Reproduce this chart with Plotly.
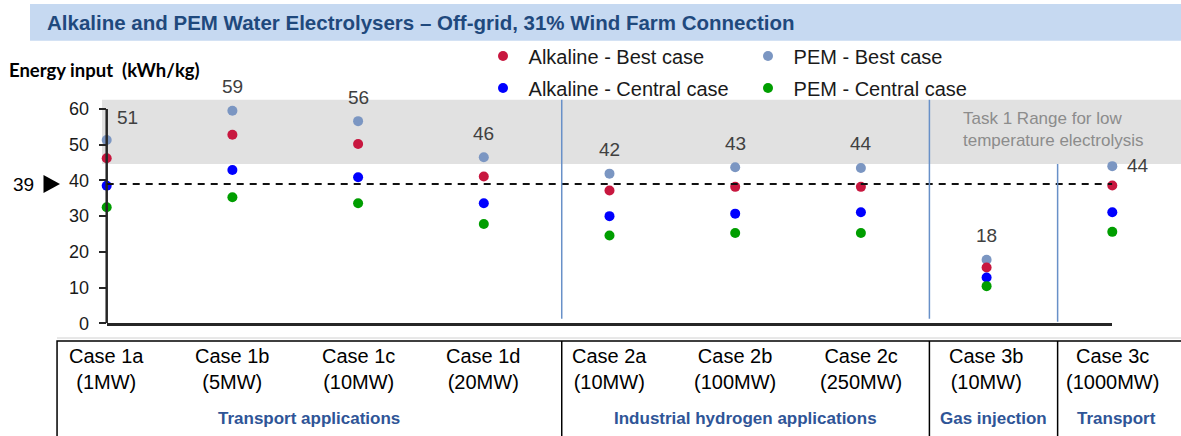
import plotly.graph_objects as go

# ---------------- data ----------------
case_names = ["Case 1a", "Case 1b", "Case 1c", "Case 1d", "Case 2a", "Case 2b", "Case 2c", "Case 3b", "Case 3c"]
case_sizes = ["(1MW)", "(5MW)", "(10MW)", "(20MW)", "(10MW)", "(100MW)", "(250MW)", "(10MW)", "(1000MW)"]

pem_best = [51.3, 59.5, 56.6, 46.5, 41.9, 43.7, 43.5, 17.8, 44.0]
alk_best = [46.2, 52.8, 50.2, 41.1, 37.2, 38.2, 38.2, 15.6, 38.6]
alk_central = [38.5, 42.9, 40.9, 33.6, 30.0, 30.7, 31.1, 12.8, 31.1]
pem_central = [32.5, 35.3, 33.6, 27.8, 24.6, 25.3, 25.3, 10.4, 25.6]
pem_best_labels = ["51", "59", "56", "46", "42", "43", "44", "18", "44"]

group_names = ["Transport applications", "Industrial hydrogen applications", "Gas injection", "Transport"]
group_bounds = [-0.395, 3.62, 6.545, 7.565, 8.5]   # in category units

reference_value = 39
task1_range = [44.6, 62.6]
y_ticks = [0, 10, 20, 30, 40, 50, 60]

series = [
    ("PEM - Best case", pem_best, "#7B96C2"),
    ("Alkaline - Best case", alk_best, "#C8173F"),
    ("Alkaline - Central case", alk_central, "#0000FF"),
    ("PEM - Central case", pem_central, "#009E00"),
]

# ---------------- layout helpers ----------------
W, H = 1181, 436
def px_x(p):
    return p / W
def px_y(p):
    return 1 - p / H

x_dom = [106.7 / W, 1112.3 / W]
x_rng = [0, 8]
y_rng = [0, 70]
y_px0, y_px_per = 323.3, 3.5717
y_dom = [px_y(y_px0), px_y(y_px0 - y_rng[1] * y_px_per)]

def cat_to_paper(v):
    return x_dom[0] + (v - x_rng[0]) / (x_rng[1] - x_rng[0]) * (x_dom[1] - x_dom[0])

FONT = "Liberation Sans, Arial, sans-serif"
x = list(range(len(case_names)))

fig = go.Figure()
legend_ids = {"Alkaline - Best case": "legend", "Alkaline - Central case": "legend2",
              "PEM - Best case": "legend3", "PEM - Central case": "legend4"}
for name, vals, col in series:
    fig.add_trace(go.Scatter(
        x=x, y=vals, mode="markers", name="\u00a0" + name,
        marker=dict(color=col, size=10, line=dict(width=0)),
        cliponaxis=False, legend=legend_ids[name], hoverinfo="skip",
    ))

shapes = []
# title bar
shapes.append(dict(type="rect", xref="paper", yref="paper", x0=px_x(30), x1=1.0,
                   y0=px_y(40.7), y1=px_y(4), fillcolor="#C6D9F1", line=dict(width=0), layer="below"))
# task 1 band
shapes.append(dict(type="rect", xref="paper", yref="y", x0=px_x(102), x1=1.0,
                   y0=task1_range[0], y1=task1_range[1], fillcolor="#E1E1E1", line=dict(width=0), layer="below"))
# y axis line
shapes.append(dict(type="line", xref="paper", yref="y", x0=x_dom[0], x1=x_dom[0], y0=0, y1=y_ticks[-1],
                   line=dict(color="#262626", width=2.5)))
# reference dashed line
shapes.append(dict(type="line", xref="x", yref="y", x0=x_rng[0], x1=x_rng[1], y0=reference_value, y1=reference_value,
                   line=dict(color="#111111", width=2, dash="7px,6px")))
# group separators in plot
sep_spans = [(1.3, task1_range[1]), (1.3, task1_range[1]), (0.45, task1_range[0])]
for b, (ya, yb) in zip(group_bounds[1:4], sep_spans):
    shapes.append(dict(type="line", xref="paper", yref="y", x0=cat_to_paper(b), x1=cat_to_paper(b),
                       y0=ya, y1=yb, line=dict(color="#6890C8", width=1.5)))
# faint line under axis
shapes.append(dict(type="line", xref="paper", yref="paper", x0=px_x(57), x1=1.0, y0=px_y(338), y1=px_y(338),
                   line=dict(color="#D0D0D0", width=1)))
# table
table_top = px_y(341)
shapes.append(dict(type="rect", xref="paper", yref="paper", x0=cat_to_paper(group_bounds[0]), x1=1.05,
                   y0=-0.1, y1=table_top, line=dict(color="#000000", width=1.5), fillcolor="rgba(0,0,0,0)"))
for b in group_bounds[1:4]:
    shapes.append(dict(type="line", xref="paper", yref="paper", x0=cat_to_paper(b), x1=cat_to_paper(b),
                       y0=-0.1, y1=table_top, line=dict(color="#000000", width=1.5)))
# triangle marker for reference value
ty = y_px0 - reference_value * y_px_per
tri = "M {:.5f} {:.5f} L {:.5f} {:.5f} L {:.5f} {:.5f} Z".format(
    px_x(43.5), px_y(ty - 9), px_x(43.5), px_y(ty + 9), px_x(60), px_y(ty))
shapes.append(dict(type="path", xref="paper", yref="paper", path=tri, fillcolor="#000000", line=dict(width=0)))

annotations = []
annotations.append(dict(text="<b>Alkaline and PEM Water Electrolysers \u2013 Off-grid, 31% Wind Farm Connection</b>",
                        xref="paper", yref="paper", x=px_x(45), y=px_y(22.5), xanchor="left", yanchor="middle",
                        showarrow=False, font=dict(family=FONT, size=20.5, color="#1F497D")))
annotations.append(dict(text="<b>Energy input  (kWh/kg)</b>", xref="paper", yref="paper", x=px_x(7), y=px_y(70),
                        xanchor="left", yanchor="middle", showarrow=False,
                        font=dict(family="Lato, Carlito, sans-serif", size=18.5, color="#000000")))
annotations.append(dict(text=str(reference_value), xref="paper", yref="y", x=px_x(36), y=reference_value,
                        xanchor="right", yanchor="middle", showarrow=False,
                        font=dict(family=FONT, size=19, color="#000000")))
annotations.append(dict(text="Task 1 Range for low<br>temperature electrolysis", xref="paper", yref="paper",
                        x=px_x(961), y=px_y(129.5), xanchor="left", yanchor="middle", align="left",
                        showarrow=False, font=dict(family=FONT, size=17, color="#8C8C8C")))
# data labels on PEM best
for i, (v, lab) in enumerate(zip(pem_best, pem_best_labels)):
    xs, ys = 0, 24
    if i == 0:
        xs, ys = 21, 22.5
    elif i == len(pem_best) - 1:
        xs, ys = 26, 1
    annotations.append(dict(text=lab, x=i, y=v, xref="x", yref="y", xshift=xs, yshift=ys,
                            showarrow=False, xanchor="center", yanchor="middle",
                            font=dict(family=FONT, size=19, color="#404040")))
# table case labels
for i, (n, s) in enumerate(zip(case_names, case_sizes)):
    annotations.append(dict(text=n + "<br>" + s, x=cat_to_paper(i), xref="paper", yref="paper", y=px_y(369),
                            xanchor="center", yanchor="middle", align="center", showarrow=False,
                            font=dict(family=FONT, size=20, color="#000000")))
# group labels
for g, a, b in zip(group_names, group_bounds[:-1], group_bounds[1:]):
    annotations.append(dict(text="<b>" + g + "</b>", x=cat_to_paper((a + b) / 2), xref="paper", yref="paper",
                            y=px_y(418), xanchor="center", yanchor="middle", showarrow=False,
                            font=dict(family=FONT, size=17, color="#2F5597")))

def leg(xp, yp):
    return dict(x=px_x(xp - 20), y=px_y(yp - 19.5), xanchor="left", yanchor="top",
                bgcolor="rgba(0,0,0,0)", borderwidth=0,
                font=dict(family=FONT, size=20, color="#1a1a1a"))

fig.update_layout(
    width=W, height=H, autosize=False,
    margin=dict(l=0, r=0, t=0, b=0, pad=0, autoexpand=False),
    paper_bgcolor="white", plot_bgcolor="rgba(0,0,0,0)",
    showlegend=True,
    legend=leg(503, 56), legend2=leg(503, 88), legend3=leg(768, 56), legend4=leg(768, 88),
    xaxis=dict(domain=x_dom, range=x_rng, showgrid=False, zeroline=False, showticklabels=False,
               ticks="", showline=True, linecolor="#262626", linewidth=2.5, fixedrange=True),
    yaxis=dict(domain=y_dom, range=y_rng, showgrid=False, zeroline=False, showline=False,
               tickvals=y_ticks, ticks="outside", ticklen=7, tickwidth=2, tickcolor="#262626",
               ticklabelstandoff=6,
               tickfont=dict(family=FONT, size=18, color="#1a1a1a"), fixedrange=True),
    shapes=shapes, annotations=annotations,
)

fig.write_html("out.html", include_plotlyjs=True, config={"displayModeBar": False},
               post_script="document.body.style.margin='0';document.body.style.overflow='hidden';")
